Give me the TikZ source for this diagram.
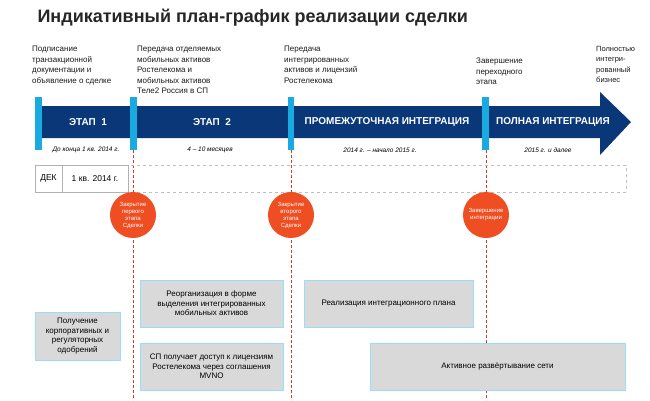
\documentclass[tikz,border=0pt]{standalone}
\usepackage{fontspec}
\setmainfont{Liberation Sans}
\begin{document}
\begin{tikzpicture}[x=1pt,y=-1pt,
  lbl/.style={anchor=north west,align=left,inner sep=0pt,font=\fontsize{8}{10.5}\selectfont,text=black!90},
  stage/.style={text=white,font=\bfseries\fontsize{10}{12}\selectfont},
  ital/.style={font=\itshape\fontsize{6.5}{7.5}\selectfont},
  cmark/.style={fill=cmk,draw=none},
  vline/.style={draw=vred,densely dashed,line width=0.9pt},
  ms/.style={circle,fill=morange,minimum size=46pt,inner sep=0pt,text=white,align=center,font=\fontsize{6}{7}\selectfont},
  box/.style={draw=cyan!40,line width=1pt,fill=gray!30,align=center,font=\fontsize{8}{9.5}\selectfont,inner sep=0pt}]
\definecolor{navy}{HTML}{0A3778}
\definecolor{cmk}{HTML}{1AAAE2}
\definecolor{vred}{HTML}{C8402A}
\definecolor{morange}{HTML}{EE4E22}
\useasboundingbox (0,0) rectangle (650,400);
\node[anchor=west,font=\bfseries\fontsize{18}{20}\selectfont,text=black!85] (title) at (34,18) {Индикативный план-график реализации сделки};
% arrow
\fill[navy] (40,106) -- (600,106) -- (600,92) -- (631,122) -- (600,155) -- (600,138) -- (40,138) -- cycle;
\node[stage] (s1) at (88,122) {ЭТАП\ \ 1};
\node[stage] (s2) at (212,122) {ЭТАП\ \ 2};
\node[stage] (s3) at (387,122) {ПРОМЕЖУТОЧНАЯ ИНТЕГРАЦИЯ};
\node[stage] (s4) at (553,122) {ПОЛНАЯ ИНТЕГРАЦИЯ};
% vertical dashed lines
\coordinate (b1) at (133,400); \coordinate (b2) at (291,400); \coordinate (b3) at (486,400);
\coordinate (t1) at (133,150); \coordinate (t2) at (291,150); \coordinate (t3) at (486,150);
\draw[vline] (t1) -- (b1);
\draw[vline] (t2) -- (b2);
\draw[vline] (t3) -- (b3);
% markers
\fill[cmark] (35,97) rectangle (42,150);
\fill[cmark] (130,97) rectangle (137,150);
\fill[cmark] (288,97) rectangle (294,150);
\fill[cmark] (482,97) rectangle (489,150);
% labels above
\node[lbl] (l1) at (32,46) {Подписание\\транзакционной\\документации и\\объявление о сделке};
\node[lbl] (l2) at (137,46) {Передача отделяемых\\мобильных активов\\Ростелекома и\\мобильных активов\\Теле2 Россия в СП};
\node[lbl] (l3) at (284,46) {Передача\\интегрированных\\активов и лицензий\\Ростелекома};
\node[lbl] (l4) at (476,58) {Завершение\\переходного\\этапа};
\node[lbl,font=\fontsize{7.5}{10.5}\selectfont] (l5) at (596,46) {Полностью\\интегри-\\рованный\\бизнес};
% italic
\node[ital] (i1) at (86,150) {До конца 1 кв. 2014 г.};
\node[ital] (i2) at (210,150) {4 – 10 месяцев};
\node[ital] (i3) at (380,150) {2014 г. – начало 2015 г.};
\node[ital] (i4) at (548,150) {2015 г. и далее};
% row
\draw[gray!50,dashed,line width=0.8pt] (128,165) rectangle (626,192);
\draw[gray!60,line width=0.6pt,fill=white] (35,165) rectangle (128,192);
\draw[gray!60,line width=0.6pt] (62,165) -- (62,192);
\node[font=\fontsize{8.5}{10}\selectfont] (dek) at (48.5,178.5) {ДЕК};
\node[font=\fontsize{8.5}{10}\selectfont] (q1) at (95,178.5) {1 кв. 2014 г.};
% milestones
\node[ms] (m1) at (133,215) {Закрытие\\первого\\этапа\\Сделки};
\node[ms] (m2) at (291,215) {Закрытие\\второго\\этапа\\Сделки};
\node[ms] (m3) at (486,215) {Завершение\\интеграции};
% boxes
\node[box,minimum width=85pt,minimum height=48pt] (x1) at (77.5,336) {Получение\\корпоративных и\\регуляторных\\одобрений};
\node[box,minimum width=143pt,minimum height=47pt] (x2) at (211.5,303.5) {Реорганизация в форме\\выделения интегрированных\\мобильных активов};
\node[box,minimum width=143pt,minimum height=47pt] (x3) at (211.5,366.5) {СП получает доступ к лицензиям\\Ростелекома через соглашения\\MVNO};
\node[box,minimum width=169pt,minimum height=47pt] (x4) at (388.5,303.5) {Реализация интеграционного плана};
\node[box,minimum width=255pt,minimum height=47pt] (x5) at (497.5,366.5) {Активное развёртывание сети};
\end{tikzpicture}
\end{document}
